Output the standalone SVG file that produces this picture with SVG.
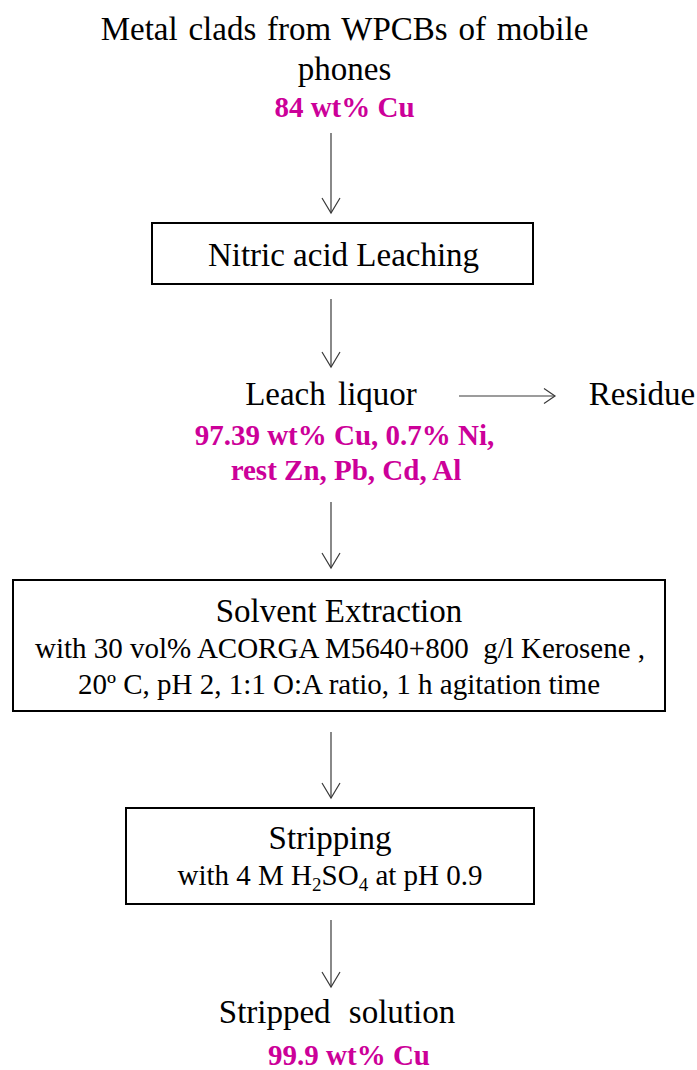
<svg xmlns="http://www.w3.org/2000/svg" width="697" height="1070" viewBox="0 0 697 1070">
<style>
text{font-family:"Liberation Serif","Times New Roman",serif;fill:#000;text-anchor:middle}
.t33{font-size:33px}
.t29{font-size:29px}
.mag{font-size:29px;font-weight:bold;fill:#CC0099}
.box{fill:#fff;stroke:#000;stroke-width:2}
.conn line{stroke:#3a3a3a;stroke-width:1.2;fill:none}
</style>
<defs>
<marker id="ah" markerUnits="userSpaceOnUse" markerWidth="20" markerHeight="22" viewBox="-16 -11 18 22" refX="0" refY="0" orient="auto">
<path d="M-15,-9 L0,0 L-15,9" fill="none" stroke="#3a3a3a" stroke-width="1.2"/>
</marker>
<marker id="ahs" markerUnits="userSpaceOnUse" markerWidth="16" markerHeight="18" viewBox="-13 -9 15 18" refX="0" refY="0" orient="auto">
<path d="M-11,-7.5 L0,0 L-11,7.5" fill="none" stroke="#3a3a3a" stroke-width="1.2"/>
</marker>
</defs>

<g id="connectors" class="conn">
<line x1="331" y1="133" x2="331" y2="213" marker-end="url(#ah)"/>
<line x1="331" y1="299" x2="331" y2="367" marker-end="url(#ah)"/>
<line x1="459" y1="396" x2="555" y2="396" marker-end="url(#ahs)"/>
<line x1="331" y1="502" x2="331" y2="568" marker-end="url(#ah)"/>
<line x1="331" y1="732" x2="331" y2="798" marker-end="url(#ah)"/>
<line x1="331" y1="920" x2="331" y2="987" marker-end="url(#ah)"/>
</g>

<g id="source">
<text class="t33" x="344.5" y="40" word-spacing="2.5">Metal clads from WPCBs of mobile</text>
<text class="t33" x="344.5" y="80">phones</text>
<text class="mag" x="344.5" y="117">84 wt% Cu</text>
</g>

<g id="leaching">
<rect class="box" x="152" y="223" width="381" height="61"/>
<text class="t33" x="343.5" y="266">Nitric acid Leaching</text>
</g>

<g id="leach-liquor">
<text class="t33" x="331" y="405" word-spacing="4">Leach liquor</text>
<text class="mag" x="344.5" y="445">97.39 wt% Cu, 0.7% Ni,</text>
<text class="mag" x="346" y="480">rest Zn, Pb, Cd, Al</text>
</g>

<g id="residue">
<text class="t33" x="642" y="405">Residue</text>
</g>

<g id="solvent-extraction">
<rect class="box" x="13" y="580" width="652" height="131"/>
<text class="t33" x="339" y="622">Solvent Extraction</text>
<text class="t29" x="340" y="658" xml:space="preserve">with 30 vol% ACORGA M5640+800  g/l Kerosene ,</text>
<text class="t29" x="339" y="694">20º C, pH 2, 1:1 O:A ratio, 1 h agitation time</text>
</g>

<g id="stripping">
<rect class="box" x="126" y="808" width="408" height="96"/>
<text class="t33" x="330" y="849">Stripping</text>
<text class="t29" x="330" y="885">with 4 M H<tspan dy="6" font-size="19">2</tspan><tspan dy="-6">SO</tspan><tspan dy="6" font-size="19">4</tspan><tspan dy="-6"> at pH 0.9</tspan></text>
</g>

<g id="stripped-solution">
<text class="t33" x="337" y="1023" word-spacing="10">Stripped solution</text>
<text class="mag" x="349" y="1065">99.9 wt% Cu</text>
</g>
</svg>
